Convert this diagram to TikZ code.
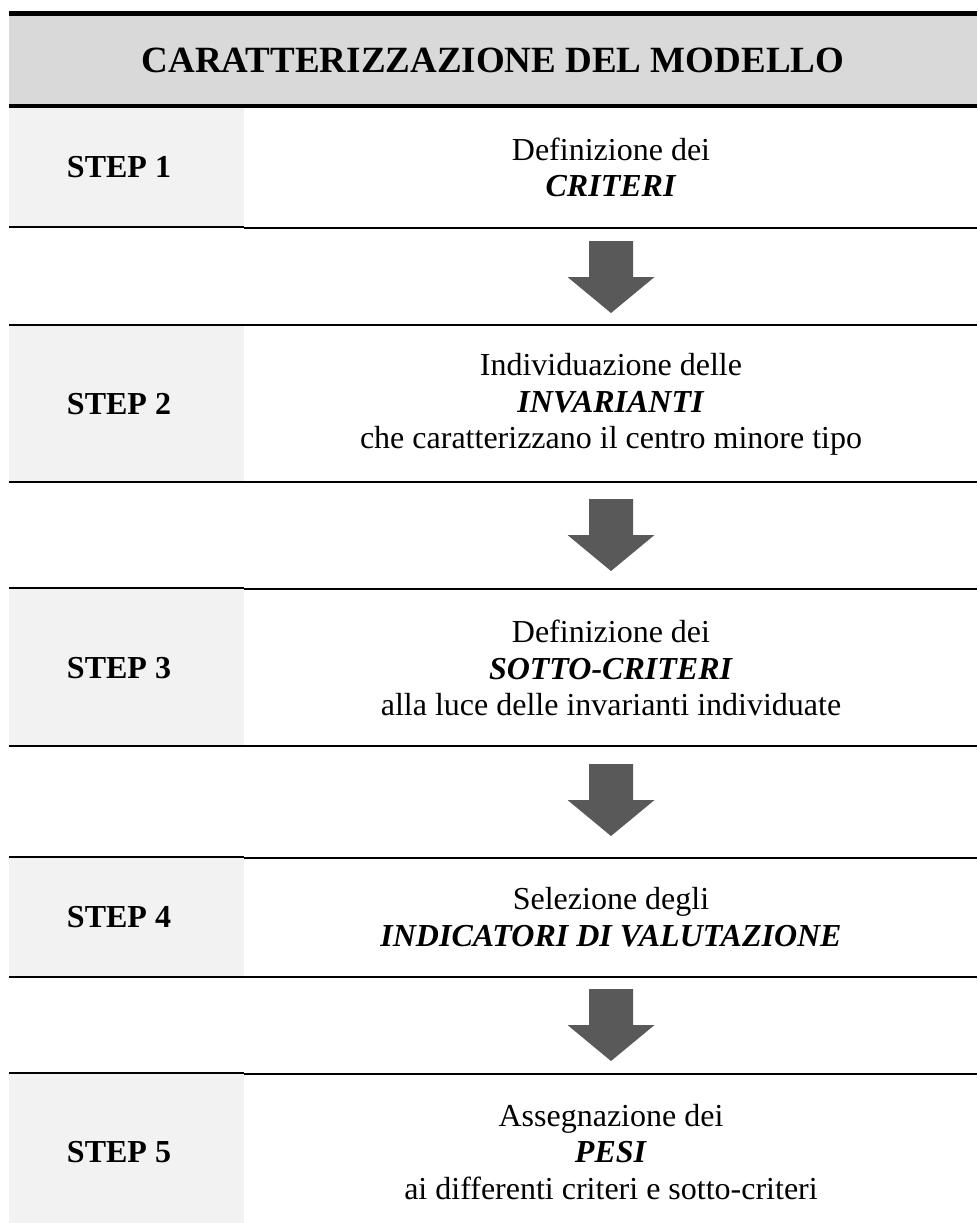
\documentclass[tikz,border=0pt]{standalone}
\usepackage{fontspec}
\setmainfont{Liberation Serif}
\definecolor{hdrgray}{HTML}{D9D9D9}
\definecolor{stepgray}{HTML}{F2F2F2}
\definecolor{arrowgray}{HTML}{595959}
\tikzset{
  titletext/.style={font=\fontsize{37}{42}\selectfont\bfseries, inner sep=0pt},
  steplabel/.style={font=\fontsize{32}{36.5}\selectfont\bfseries, inner sep=0pt},
  steptext/.style={font=\fontsize{32}{36.5}\selectfont, align=center, inner sep=0pt},
  thinrule/.style={line width=1.2pt},
  thickrule/.style={line width=2pt},
  bigarrow/.pic={\fill[arrowgray] (-22,-36) -- (22,-36) -- (22,0) -- (43.5,0) -- (0,36) -- (-43.5,0) -- (-22,0) -- cycle;}
}
\newcommand{\kw}[1]{\textbf{\textit{#1}}}
\begin{document}
\begin{tikzpicture}[x=1pt,y=-1pt]
\useasboundingbox (0,0) rectangle (977,1223);
\fill[white] (0,0) rectangle (977,1223);
% header
\fill[hdrgray] (9,16) rectangle (977,104);
\draw[line width=5pt] (9,13.5) -- (977,13.5);
\draw[line width=4pt] (9,106) -- (977,106);
\node[titletext] (title) at (493,60) {CARATTERIZZAZIONE DEL MODELLO};
% step label boxes
\fill[stepgray] (9,108) rectangle (244,227);
\fill[stepgray] (9,325) rectangle (244,482);
\fill[stepgray] (9,588) rectangle (244,746);
\fill[stepgray] (9,857) rectangle (244,977);
\fill[stepgray] (9,1073) rectangle (244,1223);
% rules: thin left / thick right
\foreach \yy in {227,588,857,1073}{
  \draw[thinrule] (9,\yy) -- (244,\yy);
  \draw[thickrule] (244,\yy+0.5) -- (977,\yy+0.5);
}
% rules: thick full
\foreach \yy in {325,482,746,977}{
  \draw[thickrule] (9,\yy) -- (977,\yy);
}
% step labels
\node[steplabel] (s1) at (119,167.5) {STEP 1};
\node[steplabel] (s2) at (119,404.5) {STEP 2};
\node[steplabel] (s3) at (119,668) {STEP 3};
\node[steplabel] (s4) at (119,917) {STEP 4};
\node[steplabel] (s5) at (119,1152) {STEP 5};
% step texts
\node[steptext] (t1) at (611,167.5) {Definizione dei\\\kw{CRITERI}};
\node[steptext] (t2) at (611,404.5) {Individuazione delle\\\kw{INVARIANTI}\\che caratterizzano il centro minore tipo};
\node[steptext] (t3) at (611,668) {Definizione dei\\\kw{SOTTO-CRITERI}\\alla luce delle invarianti individuate};
\node[steptext] (t4) at (611,917) {Selezione degli\\\kw{INDICATORI DI VALUTAZIONE}};
\node[steptext] (t5) at (611,1152) {Assegnazione dei\\\kw{PESI}\\ai differenti criteri e sotto-criteri};
% arrows
\pic (a1) at (611,277) {bigarrow};
\pic (a2) at (611,535) {bigarrow};
\pic (a3) at (611,800) {bigarrow};
\pic (a4) at (611,1025) {bigarrow};
\end{tikzpicture}
\end{document}
